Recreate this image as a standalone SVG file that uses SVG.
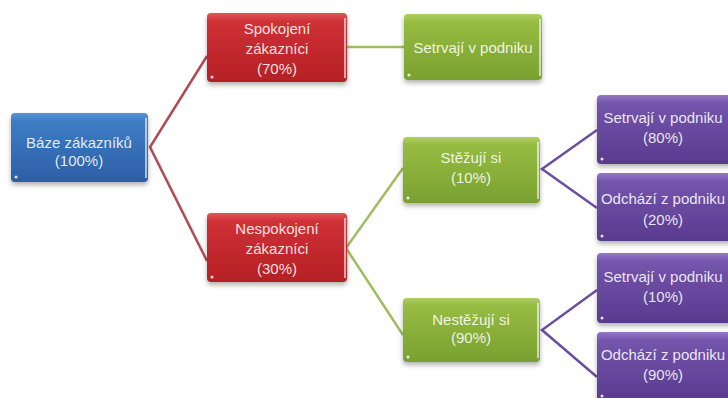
<svg xmlns="http://www.w3.org/2000/svg" width="728" height="398" viewBox="0 0 728 398">
<defs>
<linearGradient id="gBlue" x1="0" y1="0" x2="0" y2="1"><stop offset="0" stop-color="#5a93d3"/><stop offset="0.12" stop-color="#3f7cc4"/><stop offset="1" stop-color="#2b5fa6"/></linearGradient>
<linearGradient id="gRed" x1="0" y1="0" x2="0" y2="1"><stop offset="0" stop-color="#e0585c"/><stop offset="0.12" stop-color="#cf3136"/><stop offset="1" stop-color="#b51f24"/></linearGradient>
<linearGradient id="gGreen" x1="0" y1="0" x2="0" y2="1"><stop offset="0" stop-color="#b0cf62"/><stop offset="0.12" stop-color="#96bc42"/><stop offset="1" stop-color="#7aa030"/></linearGradient>
<linearGradient id="gPurple" x1="0" y1="0" x2="0" y2="1"><stop offset="0" stop-color="#9478c6"/><stop offset="0.12" stop-color="#7455ad"/><stop offset="1" stop-color="#583a8d"/></linearGradient>
<filter id="sh" x="-10%" y="-10%" width="120%" height="130%"><feDropShadow dx="0" dy="3" stdDeviation="2.5" flood-color="#000" flood-opacity="0.3"/></filter>
</defs>
<style>
.box{filter:url(#sh);}
.t{font-family:"Liberation Sans",Arial,sans-serif;font-size:15px;fill:#ffffff;fill-opacity:0.88;text-anchor:middle;}
.dot{fill:#ffffff;fill-opacity:0.85;}
.edge{stroke:#ffffff;stroke-opacity:0.6;stroke-width:2;}
.cr{stroke:#b04a55;stroke-width:2.5;fill:none;}
.cg{stroke:#9fbe5e;stroke-width:2.5;fill:none;}
.cp{stroke:#6c4fa0;stroke-width:2.5;fill:none;}
</style>
<rect width="728" height="398" fill="#ffffff"/>
<g id="connectors">
<polyline class="cr" points="207,56 150,147 207,261"/>
<line class="cg" x1="347" y1="47" x2="404" y2="47"/>
<polyline class="cg" points="403,168 346,248 403,335"/>
<polyline class="cp" points="597,130 542,169 597,208"/>
<polyline class="cp" points="597,290 542,330 597,377"/>
</g>
<g id="n_baze">
<rect class="box" x="11" y="113" width="137" height="69" rx="4" fill="url(#gBlue)"/>
<line class="edge" x1="146" y1="118" x2="146" y2="178"/>
<circle class="dot" cx="16" cy="177" r="1.5"/>
<text class="t" x="79" y="148">Báze zákazníků</text>
<text class="t" x="79" y="166">(100%)</text>
</g>
<g id="n_spok">
<rect class="box" x="207" y="13" width="140" height="69" rx="4" fill="url(#gRed)"/>
<line class="edge" x1="345" y1="18" x2="345" y2="78"/>
<circle class="dot" cx="212" cy="77" r="1.5"/>
<text class="t" x="277" y="34">Spokojení</text>
<text class="t" x="277" y="54">zákazníci</text>
<text class="t" x="277" y="74">(70%)</text>
</g>
<g id="n_setrv1">
<rect class="box" x="404" y="14" width="138" height="66" rx="4" fill="url(#gGreen)"/>
<line class="edge" x1="540" y1="19" x2="540" y2="76"/>
<circle class="dot" cx="409" cy="75" r="1.5"/>
<text class="t" x="473" y="53">Setrvají v podniku</text>
</g>
<g id="n_nespok">
<rect class="box" x="207" y="213" width="140" height="69" rx="4" fill="url(#gRed)"/>
<line class="edge" x1="345" y1="218" x2="345" y2="278"/>
<circle class="dot" cx="212" cy="277" r="1.5"/>
<text class="t" x="277" y="234">Nespokojení</text>
<text class="t" x="277" y="254">zákazníci</text>
<text class="t" x="277" y="274">(30%)</text>
</g>
<g id="n_stez">
<rect class="box" x="403" y="137" width="137" height="66" rx="4" fill="url(#gGreen)"/>
<line class="edge" x1="538" y1="142" x2="538" y2="199"/>
<circle class="dot" cx="408" cy="198" r="1.5"/>
<text class="t" x="471" y="163">Stěžují si</text>
<text class="t" x="471" y="183">(10%)</text>
</g>
<g id="n_nestez">
<rect class="box" x="403" y="298" width="137" height="64" rx="4" fill="url(#gGreen)"/>
<line class="edge" x1="538" y1="303" x2="538" y2="358"/>
<circle class="dot" cx="408" cy="357" r="1.5"/>
<text class="t" x="471" y="325">Nestěžují si</text>
<text class="t" x="471" y="343">(90%)</text>
</g>
<g id="n_p1">
<rect class="box" x="597" y="95" width="142" height="69" rx="4" fill="url(#gPurple)"/>
<circle class="dot" cx="602" cy="159" r="1.5"/>
<text class="t" x="663" y="123">Setrvají v podniku</text>
<text class="t" x="663" y="143">(80%)</text>
</g>
<g id="n_p2">
<rect class="box" x="597" y="173" width="142" height="68" rx="4" fill="url(#gPurple)"/>
<circle class="dot" cx="602" cy="236" r="1.5"/>
<text class="t" x="663" y="204">Odchází z podniku</text>
<text class="t" x="663" y="225">(20%)</text>
</g>
<g id="n_p3">
<rect class="box" x="597" y="253" width="142" height="70" rx="4" fill="url(#gPurple)"/>
<circle class="dot" cx="602" cy="318" r="1.5"/>
<text class="t" x="663" y="282">Setrvají v podniku</text>
<text class="t" x="663" y="302">(10%)</text>
</g>
<g id="n_p4">
<rect class="box" x="597" y="332" width="142" height="70" rx="4" fill="url(#gPurple)"/>
<circle class="dot" cx="602" cy="396" r="1.5"/>
<text class="t" x="663" y="360">Odchází z podniku</text>
<text class="t" x="663" y="380">(90%)</text>
</g>
</svg>
